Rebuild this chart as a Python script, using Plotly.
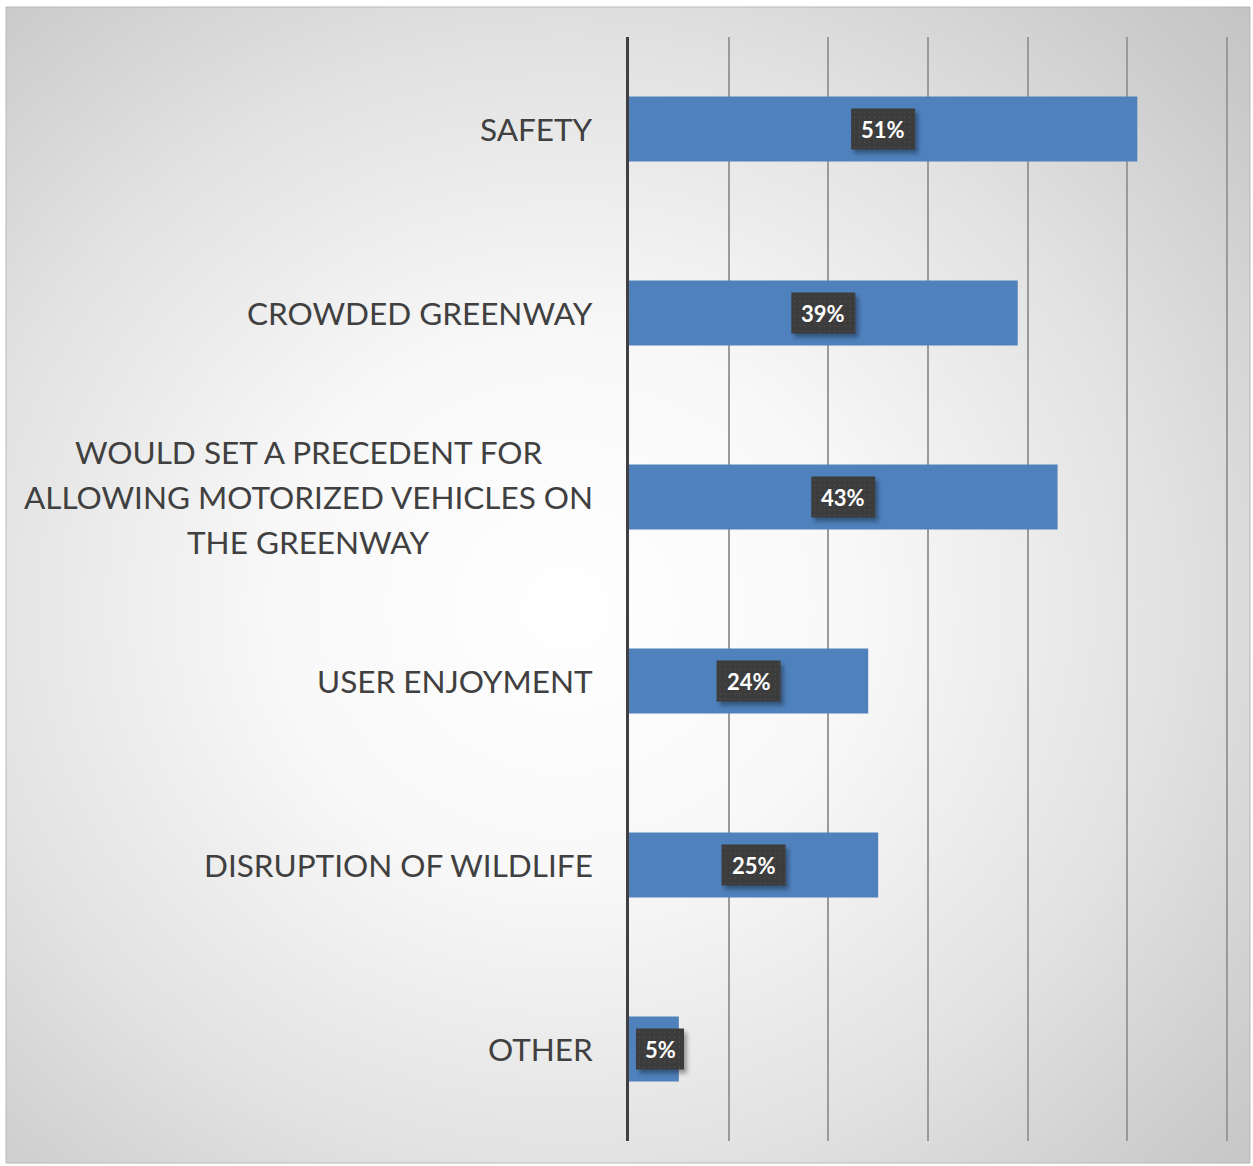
import base64
import plotly.graph_objects as go

# Survey concerns and share of respondents (percent)
categories = [
    "SAFETY",
    "CROWDED GREENWAY",
    "WOULD SET A PRECEDENT FOR<br>ALLOWING MOTORIZED VEHICLES ON<br>THE GREENWAY",
    "USER ENJOYMENT",
    "DISRUPTION OF WILDLIFE",
    "OTHER",
]
values = [51, 39, 43, 24, 25, 5]
value_labels = ["51%", "39%", "43%", "24%", "25%", "5%"]

W, H = 1253, 1166
L, R, T, B = 629, 23, 37, 25
pw, ph = W - L - R, H - T - B
X_MAX = 60.3

BAR = "#4f81bd"
TEXT = "#404040"
FONT = "Lato, 'Open Sans', sans-serif"
LINE_GAP = 45  # px between lines of a wrapped category label
BOX_H = 41     # px height of the value boxes
PAD = 8        # px margin around a value box for its shadow
AXIS_GAP = 7   # min px between the axis line and a value box


def svg_uri(svg):
    return "data:image/svg+xml;base64," + base64.b64encode(svg.encode()).decode()


# radial grey backdrop
bg_src = svg_uri("""<svg xmlns='http://www.w3.org/2000/svg' width='1244' height='1156'>
<defs><radialGradient id='g' cx='45%' cy='52%' r='78%'>
<stop offset='0%' stop-color='#ffffff'/><stop offset='30%' stop-color='#f8f8f8'/>
<stop offset='62%' stop-color='#e2e2e2'/><stop offset='90%' stop-color='#c9c9c9'/>
<stop offset='100%' stop-color='#c2c2c2'/></radialGradient></defs>
<rect width='1244' height='1156' fill='url(#g)'/></svg>""")


def box_svg(bw):
    """Dark dotted value box with a soft drop shadow."""
    w, h = bw + 2 * PAD, BOX_H + 2 * PAD
    return svg_uri(f"""<svg xmlns='http://www.w3.org/2000/svg' width='{w}' height='{h}'>
<defs><pattern id='d' width='5' height='5' patternUnits='userSpaceOnUse'>
<rect width='5' height='5' fill='#3c3c3c'/><rect x='1' y='1' width='1' height='1' fill='#5a5a5a'/></pattern>
<filter id='s' x='-30%' y='-30%' width='160%' height='160%'><feGaussianBlur stdDeviation='2'/></filter></defs>
<rect x='{PAD + 3}' y='{PAD + 4}' width='{bw}' height='{BOX_H}' fill='rgba(0,0,0,0.35)' filter='url(#s)'/>
<rect x='{PAD}' y='{PAD}' width='{bw}' height='{BOX_H}' fill='url(#d)'/></svg>""")


def px_x(p):
    return (p - L) / pw

def px_y(p):
    return (H - B - p) / ph


x_per_px = X_MAX / pw
y_per_px = len(categories) / ph

fig = go.Figure()
fig.add_trace(go.Bar(
    x=values, y=categories, orientation="h",
    marker=dict(color=BAR, line=dict(width=0)),
    hoverinfo="skip",
))

annotations = []
images = [dict(
    source=bg_src, xref="paper", yref="paper",
    x=px_x(6), y=px_y(7), sizex=px_x(1250) - px_x(6), sizey=px_y(7) - px_y(1163),
    xanchor="left", yanchor="top", sizing="stretch", layer="below",
)]
for idx, (cat, v, lab) in enumerate(zip(categories, values, value_labels)):
    bw = 16 + 16 * len(lab)
    # centre of the bar, pushed right when the box would touch the axis
    cx = max(v / 2, (bw / 2 + AXIS_GAP) * x_per_px)
    images.append(dict(
        source=box_svg(bw), xref="x", yref="y", x=cx, y=idx,
        sizex=(bw + 2 * PAD) * x_per_px, sizey=(BOX_H + 2 * PAD) * y_per_px,
        xanchor="center", yanchor="middle", sizing="stretch", layer="above",
    ))
    annotations.append(dict(
        x=cx, y=cat, xref="x", yref="y", text=f"<b>{lab}</b>",
        showarrow=False, font=dict(family=FONT, size=22, color="white"),
    ))
    # category label: each line centred, block right edge near the axis
    lines = cat.split("<br>")
    n = len(lines)
    for i, line in enumerate(lines):
        annotations.append(dict(
            x=0, y=cat, xref="paper", yref="y", text=line, showarrow=False,
            xanchor="right" if n == 1 else "center", yanchor="middle",
            xshift=-34 if n == 1 else -321,
            yshift=((n - 1) / 2 - i) * LINE_GAP,
            font=dict(family=FONT, size=31.5, color=TEXT),
        ))

fig.update_layout(
    width=W, height=H,
    margin=dict(l=L, r=R, t=T, b=B, pad=0),
    paper_bgcolor="white", plot_bgcolor="rgba(0,0,0,0)",
    showlegend=False, bargap=0.647,
    annotations=annotations,
    images=images,
    shapes=[dict(
        type="rect", xref="paper", yref="paper",
        x0=px_x(6), x1=px_x(1250), y0=px_y(1163), y1=px_y(7),
        line=dict(color="#b8b8b8", width=1), layer="below",
    )],
    xaxis=dict(
        range=[0, X_MAX], dtick=10, showticklabels=False, ticks="",
        showgrid=True, gridcolor="#9a9a9a", gridwidth=1.5,
        zeroline=False, showline=False, fixedrange=True,
    ),
    yaxis=dict(
        autorange="reversed", showticklabels=False, ticks="",
        showline=True, linecolor="#404040", linewidth=3,
        showgrid=False, zeroline=False, fixedrange=True,
    ),
)

fig.write_html("out.html")
